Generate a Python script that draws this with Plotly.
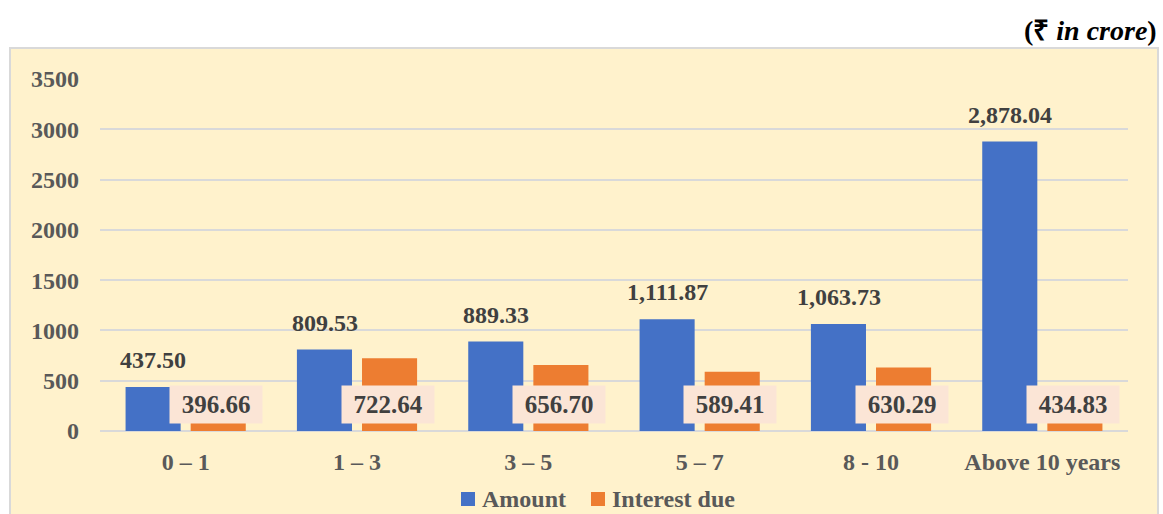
import plotly.graph_objects as go

categories = ["0 – 1", "1 – 3", "3 – 5", "5 – 7", "8 - 10", "Above 10 years"]
amount = [437.50, 809.53, 889.33, 1111.87, 1063.73, 2878.04]
interest = [396.66, 722.64, 656.70, 589.41, 630.29, 434.83]
y_ticks = [0, 500, 1000, 1500, 2000, 2500, 3000, 3500]
series_names = ["Amount", "Interest due"]

FONT = '"Liberation Serif", "Times New Roman", serif'
BLUE = "#4471C6"
ORANGE = "#ED7D31"

fig = go.Figure()
fig.add_trace(go.Bar(name=series_names[0], x=categories, y=amount, marker=dict(color=BLUE, line=dict(width=0))))
fig.add_trace(go.Bar(name=series_names[1], x=categories, y=interest, marker=dict(color=ORANGE, line=dict(width=0))))

def fmt(v):
    return f"{v:,.2f}"

def px_x(p):
    return (p - 100) / 1028

def px_y(p):
    return (431 - p) / 352

annotations = []
for c, a in zip(categories, amount):
    annotations.append(dict(x=c, y=a, xref="x", yref="y", text=f"<b>{fmt(a)}</b>", showarrow=False,
                            xshift=-32.5, yshift=27, yanchor="middle",
                            font=dict(family=FONT, size=24, color="#404040")))
for c, v in zip(categories, interest):
    annotations.append(dict(x=c, y=0, xref="x", yref="y", text=f"<b>{fmt(v)}</b>", showarrow=False,
                            xshift=30.5, yshift=27, yanchor="middle", xanchor="center",
                            width=90, height=35, borderpad=1, bgcolor="#FBE5D6",
                            font=dict(family=FONT, size=25, color="#404040")))
annotations.append(dict(x=px_x(1159), y=px_y(31), xref="paper", yref="paper",
                        text="<b>(₹ <i>in crore</i>)</b>",
                        showarrow=False, xanchor="right", yanchor="middle",
                        font=dict(family=FONT, size=28, color="#000000")))

# manual legend
legend_items = [(series_names[0], BLUE, 461, 480), (series_names[1], ORANGE, 591, 610)]
shapes = [dict(type="rect", xref="paper", yref="paper",
               x0=px_x(10), x1=px_x(1158), y0=px_y(530), y1=px_y(48),
               fillcolor="#FFF2CC", line=dict(color="#D9D9D9", width=2), layer="below")]
for name, col, sx, tx in legend_items:
    shapes.append(dict(type="rect", xref="paper", yref="paper",
                       x0=px_x(sx), x1=px_x(sx + 14), y0=px_y(506), y1=px_y(492),
                       fillcolor=col, line=dict(width=0), layer="above"))
    annotations.append(dict(x=px_x(tx), y=px_y(499), xref="paper", yref="paper",
                            text=f"<b>{name}</b>", showarrow=False, xanchor="left", yanchor="middle",
                            font=dict(family=FONT, size=24, color="#595959")))

fig.update_layout(
    width=1163, height=514,
    margin=dict(l=100, r=35, t=79, b=83, autoexpand=False),
    paper_bgcolor="white",
    plot_bgcolor="rgba(0,0,0,0)",
    barmode="group", bargap=0.24, bargroupgap=0.154,
    font=dict(family=FONT, size=24, color="#595959"),
    showlegend=False,
    shapes=shapes,
    annotations=annotations,
)

fig.update_yaxes(range=[0, 3500], tickvals=y_ticks, ticktext=[f"<b>{t}</b>" for t in y_ticks],
                 showgrid=True, gridcolor="#D9D9D9", gridwidth=2, zeroline=True,
                 zerolinecolor="#D9D9D9", zerolinewidth=2, showline=False, automargin=False,
                 ticklabelstandoff=20, tickfont=dict(family=FONT, size=24, color="#595959"))
fig.update_xaxes(tickvals=categories, ticktext=[f"<b>{c}</b>" for c in categories],
                 showline=False, showgrid=False, ticklabelstandoff=14, automargin=False,
                 tickfont=dict(family=FONT, size=24, color="#595959"))

fig.write_html("out.html", config={"displayModeBar": False},
               post_script="document.body.style.margin='0';document.body.style.overflow='hidden';")
